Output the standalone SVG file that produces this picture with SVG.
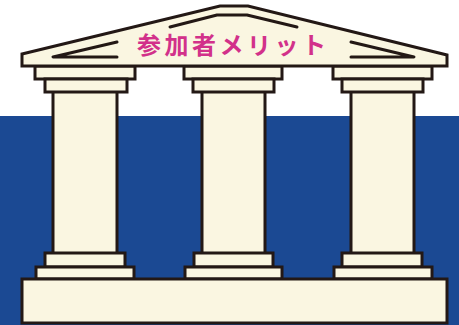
<svg xmlns="http://www.w3.org/2000/svg" width="459" height="325" viewBox="0 0 459 325">
  <style>
    .stone { fill: #faf6e1; stroke: #231815; stroke-width: 3; stroke-linejoin: miter; }
    .groove { fill: none; stroke: #231815; stroke-width: 3; stroke-linecap: round; stroke-linejoin: round; }
    .title { font-family: "Noto Sans CJK JP", "Noto Sans", sans-serif; font-size: 24px; font-weight: 700; fill: #d2318a; letter-spacing: 3.5px; }
  </style>

  <!-- sky and sea backdrop -->
  <rect x="0" y="0" width="459" height="325" fill="#ffffff"/>
  <rect x="0" y="116" width="459" height="209" fill="#1b4993"/>

  <!-- left column -->
  <g id="column-left">
    <rect class="stone" x="53" y="90" width="64" height="164"/>
    <rect class="stone" x="35" y="66" width="100" height="13"/>
    <rect class="stone" x="45" y="79" width="82" height="13"/>
    <rect class="stone" x="45" y="253" width="80" height="14"/>
    <rect class="stone" x="36" y="267" width="98" height="12"/>
  </g>

  <!-- center column -->
  <g id="column-center">
    <rect class="stone" x="202" y="90" width="63" height="164"/>
    <rect class="stone" x="184" y="66" width="98" height="13"/>
    <rect class="stone" x="193" y="79" width="81" height="13"/>
    <rect class="stone" x="194" y="253" width="79" height="14"/>
    <rect class="stone" x="185" y="267" width="97" height="12"/>
  </g>

  <!-- right column -->
  <g id="column-right">
    <rect class="stone" x="351" y="90" width="63" height="164"/>
    <rect class="stone" x="333" y="66" width="99" height="13"/>
    <rect class="stone" x="342" y="79" width="81" height="13"/>
    <rect class="stone" x="342" y="253" width="80" height="14"/>
    <rect class="stone" x="334" y="267" width="98" height="12"/>
  </g>

  <!-- plinth -->
  <g id="plinth">
    <rect class="stone" x="22" y="279" width="425" height="44"/>
  </g>

  <!-- pediment with title -->
  <g id="roof">
    <polygon class="stone" points="22,54 220,6 248,6 447,55 447,66 22,66"/>
    <polyline class="groove" points="170,27 217,15 247,15 297,27"/>
    <polyline class="groove" points="117,42 53,57 117,57"/>
    <polyline class="groove" points="351,42 414,57 351,57"/>
    <text class="title" x="137" y="54">参加者メリット</text>
  </g>
</svg>
